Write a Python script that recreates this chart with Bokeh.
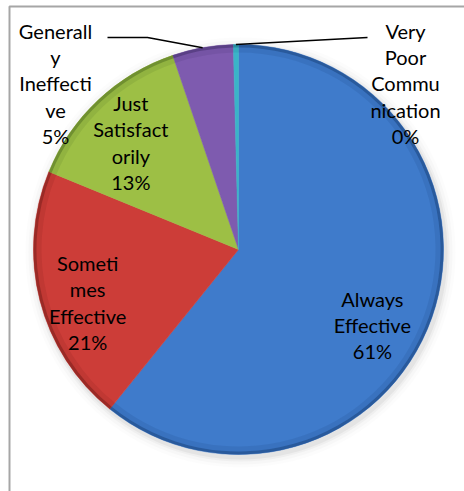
import math
from bokeh.plotting import figure
from bokeh.models import Range1d
from bokeh.core.properties import value
from bokeh.embed import file_html
from bokeh.resources import INLINE

# ---- data ----
categories = ["Always Effective", "Sometimes Effective", "Just Satisfactorily",
              "Generally Ineffective", "Very Poor Communication"]
shares = [60.8, 20.4, 13.6, 4.8, 0.4]
label_texts = ["Always\nEffective\n61%", "Someti\nmes\nEffective\n21%",
               "Just\nSatisfact\norily\n13%", "Generall\ny\nIneffecti\nve\n5%",
               "Very\nPoor\nCommu\nnication\n0%"]
colors = ["#3F7BCB", "#CC3D38", "#9DBF45", "#7E5BAF", "#3AB4C8"]
rims = ["#234F8C", "#8A2420", "#61802A", "#4F3778", "#1F7E90"]

W, H = 464, 491
def sy(screen_y):
    return H - screen_y

p = figure(width=W, height=H, output_backend="svg", toolbar_location=None,
           x_range=Range1d(0, W), y_range=Range1d(0, H),
           min_border=0, outline_line_color=None)
p.axis.visible = False
p.grid.visible = False
p.background_fill_color = "white"
p.border_fill_color = "white"

cx, cy, R = 238, sy(249), 205

# frame
p.line([9, 9, 464], [0, sy(6), sy(6)], line_color="#A6A6A6", line_width=2)

# soft shadow
for dr, a in [(10, 0.025), (7, 0.04), (4, 0.07), (2, 0.1)]:
    p.circle(cx + 2, cy - 3, radius=R + dr, fill_color="#8c8c8c", fill_alpha=a,
             line_color=None)

total = sum(shares)
cum = 0.0
starts, ends, mids = [], [], []
for s in shares:
    a0 = math.pi / 2 - 2 * math.pi * cum / total
    cum += s
    a1 = math.pi / 2 - 2 * math.pi * cum / total
    starts.append(a0)
    ends.append(a1)
    mids.append((a0 + a1) / 2)

p.wedge(x=[cx] * 5, y=[cy] * 5, radius=R, start_angle=starts, end_angle=ends,
        direction="clock", fill_color=colors, line_color=colors, line_width=0.5)
# bevel: darker outer rim, slight darker band inside it
p.annular_wedge(x=[cx] * 5, y=[cy] * 5, inner_radius=R - 8, outer_radius=R - 3,
                start_angle=starts, end_angle=ends, direction="clock",
                fill_color=rims, fill_alpha=0.18, line_color=None)
p.annular_wedge(x=[cx] * 5, y=[cy] * 5, inner_radius=R - 3, outer_radius=R,
                start_angle=starts, end_angle=ends, direction="clock",
                fill_color=rims, fill_alpha=0.75, line_color=None)

fnt = value("Lato")
FS = "20px"
LH = 1.1

# inside labels: (radius fraction, angle nudge deg)
inside = {0: (0.75, -10), 1: (0.78, 5), 2: (0.74, 2)}
for i, (frac, nudge) in inside.items():
    ang = mids[i] + math.radians(nudge)
    lx = cx + frac * R * math.cos(ang)
    ly = cy + frac * R * math.sin(ang)
    p.text(x=[lx], y=[ly], text=[label_texts[i]], text_font=fnt,
           text_font_size=FS, text_align="center", text_baseline="middle",
           text_line_height=LH, text_color="black")

def edge(i):
    return cx + R * math.cos(mids[i]), cy + R * math.sin(mids[i])

# Generally Ineffective (outside, leader line)
ex, ey = edge(3)
p.line([ex, 147, 107], [ey, sy(37), sy(37)], line_color="black", line_width=1.5)
p.text(x=[55], y=[sy(83)], text=[label_texts[3]], text_font=fnt,
       text_font_size=FS, text_align="center", text_baseline="middle",
       text_line_height=LH, text_color="black")
# Very Poor Communication (outside, leader line)
ex, ey = edge(4)
p.line([ex, 367], [ey, sy(37)], line_color="black", line_width=1.5)
p.text(x=[405], y=[sy(83)], text=[label_texts[4]], text_font=fnt,
       text_font_size=FS, text_align="center", text_baseline="middle",
       text_line_height=LH, text_color="black")

open("out.html", "w").write(file_html(p, INLINE))
